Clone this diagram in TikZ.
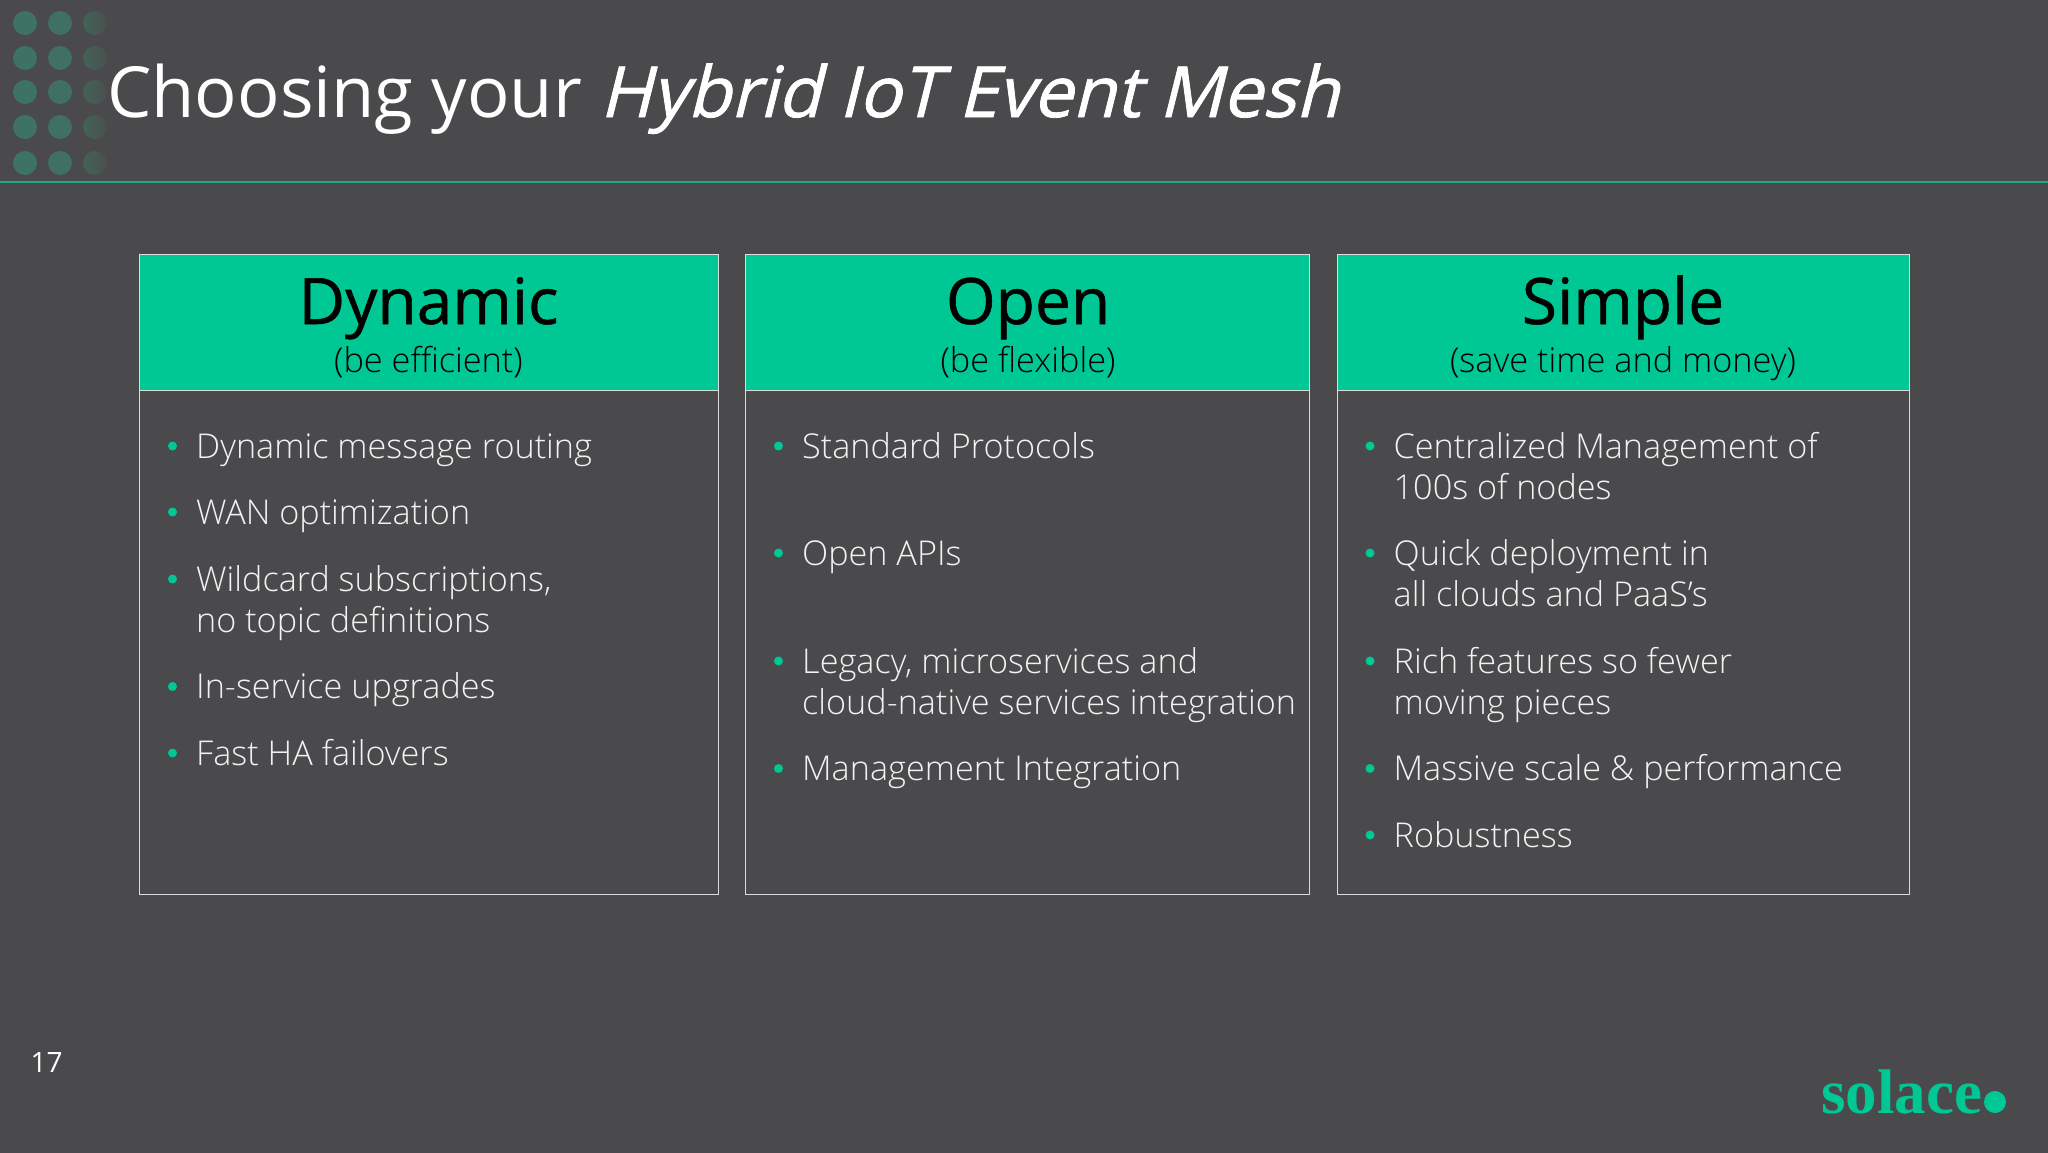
\documentclass[tikz,border=0pt]{standalone}
\usepackage{fontspec}
\setmainfont{Open Sans}
\IfFontExistsTF{Open Sans Light}{\newfontfamily\lightf{Open Sans Light}}{\newfontfamily\lightf{Open Sans}}
\newfontfamily\logof{Liberation Serif}
\newfontfamily\titleit{Open Sans}[FakeSlant=0.25,FakeBold=1.1]
\newfontfamily\headf{Open Sans}[FakeBold=0.8]
\definecolor{bg}{HTML}{4A4A4C}
\definecolor{sgreen}{HTML}{00C895}
\definecolor{rulec}{HTML}{1FA884}
\definecolor{boxline}{HTML}{D8DEDC}
\definecolor{dotA}{HTML}{3E7265}
\definecolor{dotB}{HTML}{406F64}
\definecolor{dotCl}{HTML}{436357}
\definecolor{dotCr}{HTML}{4A4F4E}
\definecolor{bodytext}{HTML}{F2F2F2}
\tikzset{
  panel/.style={draw=boxline,line width=1.2pt,anchor=north west,inner sep=0pt},
  headbox/.style={panel,fill=sgreen},
  headt/.style={anchor=base,inner sep=0pt,text=black,font=\headf\fontsize{64}{64}\selectfont},
  subt/.style={anchor=base,inner sep=0pt,text=black,font=\lightf\fontsize{34.3}{34.3}\selectfont},
  item/.style={anchor=base west,inner sep=0pt,text=bodytext,font=\lightf\fontsize{34.2}{34.2}\selectfont},
  bul/.style={circle,fill=sgreen,draw=none,inner sep=0pt,minimum size=9pt},
  dot/.style={circle,draw=none,inner sep=0pt,minimum size=24pt}
}
% \itm{name}{bullet x}{text x}{baseline}{text}
\newcommand{\itm}[5]{%
  \node[bul] (b#1) at (#2,#4-12) {};
  \node[item] (t#1) at (#3,#4) {#5};}
\begin{document}
\begin{tikzpicture}[x=1pt,y=-1pt]
\useasboundingbox (0,0) rectangle (2048,1152);
\fill[bg] (-6,-6) rectangle (2054,1158);
% dots
\foreach \r/\yy in {1/23,2/58,3/92,4/127,5/163}{
  \node[dot,fill=dotA] (da\r) at (25,\yy) {};
  \node[dot,fill=dotB] (db\r) at (60,\yy) {};
  \node[dot,left color=dotCl,right color=dotCr] (dc\r) at (95,\yy) {};
}
\coordinate (ruleL) at (0,182);
\coordinate (ruleR) at (2048,182);
\draw[rulec,line width=2.6pt] (ruleL) -- (ruleR);
% title
\node[anchor=base west,inner sep=0pt,text=white,font=\fontsize{70.5}{70.5}\selectfont] (title) at (107,117) {Choosing your};
\node[anchor=base west,inner sep=0pt,text=white,font=\titleit\fontsize{70.5}{70.5}\selectfont] (title2) at (599.5,117) {Hybrid IoT Event Mesh};
% panels
\node[panel,minimum width=579pt,minimum height=640pt] (p1) at (138.5,253.5) {};
\node[panel,minimum width=564pt,minimum height=640pt] (p2) at (745,253.5) {};
\node[panel,minimum width=572pt,minimum height=640pt] (p3) at (1336.5,253.5) {};
\node[headbox,minimum width=579pt,minimum height=136pt] (h1) at (138.5,253.5) {};
\node[headbox,minimum width=564pt,minimum height=136pt] (h2) at (745,253.5) {};
\node[headbox,minimum width=572pt,minimum height=136pt] (h3) at (1336.5,253.5) {};
\node[headt] (ht1) at (428.5,324) {Dynamic};
\node[subt] (st1) at (428.5,372) {(be efficient)};
\node[headt] (ht2) at (1028,324) {Open};
\node[subt] (st2) at (1028,372) {(be flexible)};
\node[headt] (ht3) at (1623,324) {Simple};
\node[subt] (st3) at (1623,372) {(save time and money)};
% column 1
\itm{a1}{172.5}{196}{458}{Dynamic message routing}
\itm{a2}{172.5}{196}{524}{WAN optimization}
\itm{a3}{172.5}{196}{591}{Wildcard subscriptions,}
\node[item] (a3b) at (196,632) {no topic definitions};
\itm{a4}{172.5}{196}{698.5}{In-service upgrades}
\itm{a5}{172.5}{196}{765}{Fast HA failovers}
% column 2
\itm{c1}{778.5}{802}{458}{Standard Protocols}
\itm{c2}{778.5}{802}{565}{Open APIs}
\itm{c3}{778.5}{802}{673}{Legacy, microservices and}
\node[item] (c3b) at (802,714) {cloud-native services integration};
\itm{c4}{778.5}{802}{780.5}{Management Integration}
% column 3
\itm{e1}{1370}{1393.5}{458}{Centralized Management of}
\node[item] (e1b) at (1393.5,499) {100s of nodes};
\itm{e2}{1370}{1393.5}{565}{Quick deployment in}
\node[item] (e2b) at (1393.5,606) {all clouds and PaaS’s};
\itm{e3}{1370}{1393.5}{673}{Rich features so fewer}
\node[item] (e3b) at (1393.5,714) {moving pieces};
\itm{e4}{1370}{1393.5}{780.5}{Massive scale \& performance}
\itm{e5}{1370}{1393.5}{847}{Robustness}
% footer
\node[anchor=base west,inner sep=0pt,text=white,font=\fontsize{28}{28}\selectfont] (pg) at (30.5,1072) {17};
\node[anchor=base west,inner sep=0pt,text=sgreen,font=\logof\bfseries\fontsize{63}{63}\selectfont] (logo) at (1821,1113) {solace};
\node[circle,fill=sgreen,draw=none,inner sep=0pt,minimum size=22pt] (logodot) at (1995,1102) {};
\end{tikzpicture}
\end{document}
